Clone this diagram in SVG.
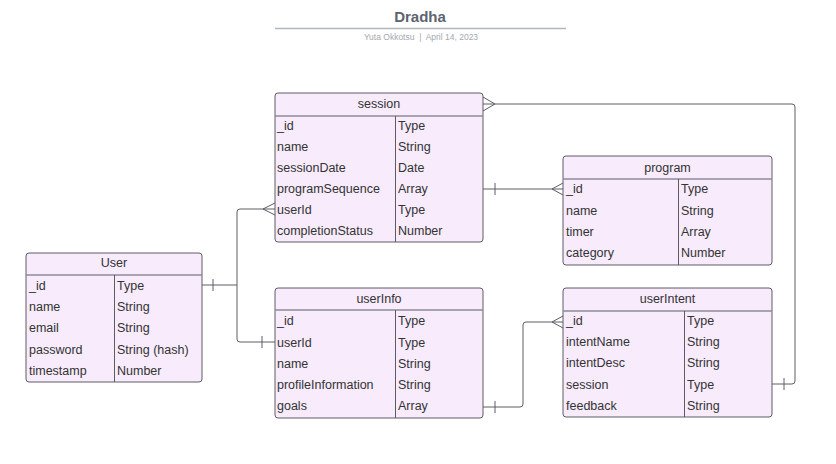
<svg xmlns="http://www.w3.org/2000/svg" width="836" height="464" viewBox="0 0 836 464">
<style>
.box{fill:#f7ebfc;stroke:#5c5c66;stroke-width:1}
.hl{stroke:#8c8c99;stroke-width:1.5}
.cl{stroke:#5c5c66;stroke-width:1}
text{font-family:"Liberation Sans",Arial,sans-serif}
.t{font-size:12.5px;fill:#333333}
.h{font-size:12.5px;fill:#333333;text-anchor:middle}
.c{fill:none;stroke:#5c5c66;stroke-width:1}
</style>
<rect width="836" height="464" fill="#ffffff"/>
<g id="title">
<text x="420" y="22" text-anchor="middle" font-size="15" font-weight="bold" fill="#5b6470">Dradha</text>
<line x1="275" y1="28.5" x2="566" y2="28.5" stroke="#b0b6be" stroke-width="1.5"/>
<text x="421" y="40" text-anchor="middle" font-size="8.5" fill="#a4a8ae" xml:space="preserve">Yuta Okkotsu  |  April 14, 2023</text>
</g>
<g id="connectors">
<path class="c" d="M483,104 H792 Q795,104 795,107 V381 Q795,384 792,384 H772"/>
<path class="c" d="M483,97 L495,104 M483,111 L495,104"/>
<path class="c" d="M784,378 V390"/>
<path class="c" d="M483,189 H563"/>
<path class="c" d="M495,183 V195"/>
<path class="c" d="M563,183 L552,189 L563,195"/>
<path class="c" d="M202,285 H237"/>
<path class="c" d="M213,279 V291"/>
<path class="c" d="M275,209 H240 Q237,209 237,212 V339 Q237,342 240,342 H275"/>
<path class="c" d="M275,203 L263,209 L275,215"/>
<path class="c" d="M262,336 V348"/>
<path class="c" d="M483,407 H520 Q523,407 523,404 V325 Q523,322 526,322 H563"/>
<path class="c" d="M495,401 V413"/>
<path class="c" d="M563,316 L552,322 L563,328"/>
</g>
<g id="session">
<rect class="box" x="275" y="93" width="208" height="149" rx="3"/>
<line class="hl" x1="275" y1="116" x2="483" y2="116"/>
<line class="cl" x1="395.5" y1="116" x2="395.5" y2="242"/>
<text class="h" x="379" y="108">session</text>
<text class="t" x="277" y="130">_id</text><text class="t" x="398" y="130">Type</text>
<text class="t" x="277" y="151">name</text><text class="t" x="398" y="151">String</text>
<text class="t" x="277" y="172">sessionDate</text><text class="t" x="398" y="172">Date</text>
<text class="t" x="277" y="193">programSequence</text><text class="t" x="398" y="193">Array</text>
<text class="t" x="277" y="214">userId</text><text class="t" x="398" y="214">Type</text>
<text class="t" x="277" y="235">completionStatus</text><text class="t" x="398" y="235">Number</text>
</g>
<g id="program">
<rect class="box" x="563" y="156" width="209" height="109" rx="3"/>
<line class="hl" x1="563" y1="179" x2="772" y2="179"/>
<line class="cl" x1="678.5" y1="179" x2="678.5" y2="265"/>
<text class="h" x="667.5" y="172">program</text>
<text class="t" x="566" y="193">_id</text><text class="t" x="681" y="193">Type</text>
<text class="t" x="566" y="214.5">name</text><text class="t" x="681" y="214.5">String</text>
<text class="t" x="566" y="236">timer</text><text class="t" x="681" y="236">Array</text>
<text class="t" x="566" y="257">category</text><text class="t" x="681" y="257">Number</text>
</g>
<g id="User">
<rect class="box" x="26" y="253" width="176" height="129" rx="3"/>
<line class="hl" x1="26" y1="275" x2="202" y2="275"/>
<line class="cl" x1="114.5" y1="275" x2="114.5" y2="382"/>
<text class="h" x="114" y="267">User</text>
<text class="t" x="29" y="289.5">_id</text><text class="t" x="117" y="289.5">Type</text>
<text class="t" x="29" y="310.5">name</text><text class="t" x="117" y="310.5">String</text>
<text class="t" x="29" y="332">email</text><text class="t" x="117" y="332">String</text>
<text class="t" x="29" y="353.5">password</text><text class="t" x="117" y="353.5">String (hash)</text>
<text class="t" x="29" y="374.5">timestamp</text><text class="t" x="117" y="374.5">Number</text>
</g>
<g id="userInfo">
<rect class="box" x="275" y="288" width="208" height="130" rx="3"/>
<line class="hl" x1="275" y1="310" x2="483" y2="310"/>
<line class="cl" x1="395.5" y1="310" x2="395.5" y2="418"/>
<text class="h" x="379" y="303">userInfo</text>
<text class="t" x="277" y="324.5">_id</text><text class="t" x="398" y="324.5">Type</text>
<text class="t" x="277" y="346.5">userId</text><text class="t" x="398" y="346.5">Type</text>
<text class="t" x="277" y="367.5">name</text><text class="t" x="398" y="367.5">String</text>
<text class="t" x="277" y="388.5">profileInformation</text><text class="t" x="398" y="388.5">String</text>
<text class="t" x="277" y="409.5">goals</text><text class="t" x="398" y="409.5">Array</text>
</g>
<g id="userIntent">
<rect class="box" x="563" y="288" width="209" height="129" rx="3"/>
<line class="hl" x1="563" y1="311" x2="772" y2="311"/>
<line class="cl" x1="684.5" y1="311" x2="684.5" y2="417"/>
<text class="h" x="667.5" y="303">userIntent</text>
<text class="t" x="566" y="324.5">_id</text><text class="t" x="687" y="324.5">Type</text>
<text class="t" x="566" y="346">intentName</text><text class="t" x="687" y="346">String</text>
<text class="t" x="566" y="367">intentDesc</text><text class="t" x="687" y="367">String</text>
<text class="t" x="566" y="388.5">session</text><text class="t" x="687" y="388.5">Type</text>
<text class="t" x="566" y="409.5">feedback</text><text class="t" x="687" y="409.5">String</text>
</g>
</svg>
